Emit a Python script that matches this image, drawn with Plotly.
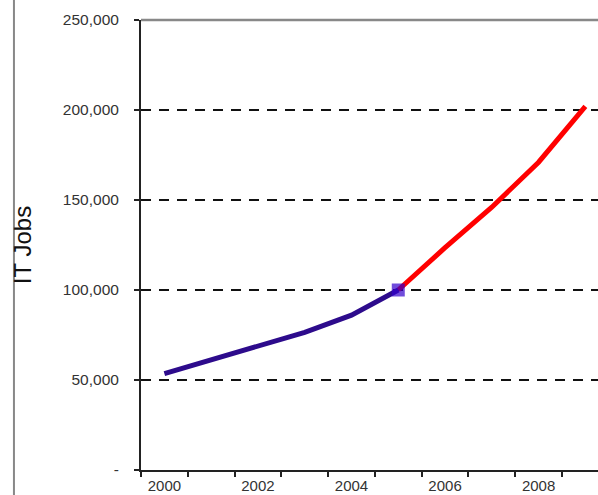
import plotly.graph_objects as go

years_hist = [2000, 2001, 2002, 2003, 2004, 2005]
jobs_hist = [53500, 61000, 68500, 76500, 86000, 100000]
years_proj = [2005, 2006, 2007, 2008, 2009]
jobs_proj = [100000, 123500, 146000, 171000, 202000]

y_tickvals = [0, 50000, 100000, 150000, 200000, 250000]
y_ticktext = ["-", "50,000", "100,000", "150,000", "200,000", "250,000"]
x_tickvals = [2000, 2002, 2004, 2006, 2008]
x_ticktext = ["2000", "2002", "2004", "2006", "2008"]

fig = go.Figure()
fig.add_trace(go.Scatter(
    x=years_proj, y=jobs_proj, mode="lines",
    line=dict(color="#FF0000", width=5), showlegend=False, hoverinfo="skip"))
fig.add_trace(go.Scatter(
    x=years_hist, y=jobs_hist, mode="lines+markers",
    line=dict(color="#2D0B8C", width=5),
    marker=dict(symbol="square", color="#3300CC",
                size=[0] * (len(years_hist) - 1) + [13], line=dict(width=0)),
    showlegend=False, hoverinfo="skip"))

fig.update_layout(
    width=598, height=495,
    margin=dict(l=141, r=0, t=20, b=25),
    paper_bgcolor="white", plot_bgcolor="white",
    font=dict(family="Liberation Sans, Arial, sans-serif", color="#333333"),
    xaxis=dict(
        range=[1999.5, 2009.27], tickvals=x_tickvals, ticktext=x_ticktext,
        ticks="", showgrid=False, zeroline=False,
        showline=True, linecolor="#222222", linewidth=2,
        tickfont=dict(size=15, color="#333333"), ticklabelstandoff=1,
        minor=dict(tick0=1999.5, dtick=1, ticks="outside", ticklen=5,
                   tickcolor="#222222", tickwidth=2, showgrid=False),
        automargin=False,
    ),
    yaxis=dict(
        range=[0, 250000], tickvals=y_tickvals, ticktext=y_ticktext,
        ticks="outside", ticklen=5, tickcolor="#222222", tickwidth=2,
        showline=True, linecolor="#222222", linewidth=2, zeroline=False,
        showgrid=True, gridcolor="#111111", gridwidth=1.5, griddash="10px,8px",
        tickfont=dict(size=15.5, color="#333333"), ticklabelstandoff=12,
        title=dict(text="IT Jobs", font=dict(size=24, color="#111111"), standoff=24),
        automargin=False,
    ),
    shapes=[
        dict(type="line", xref="paper", yref="paper", x0=0, x1=1, y0=1, y1=1,
             line=dict(color="#888888", width=2.5)),
        dict(type="line", xref="paper", yref="paper", x0=-0.278, x1=-0.278,
             y0=-0.06, y1=1.05, line=dict(color="#888888", width=2)),
    ],
)

fig.write_html("out.html")
